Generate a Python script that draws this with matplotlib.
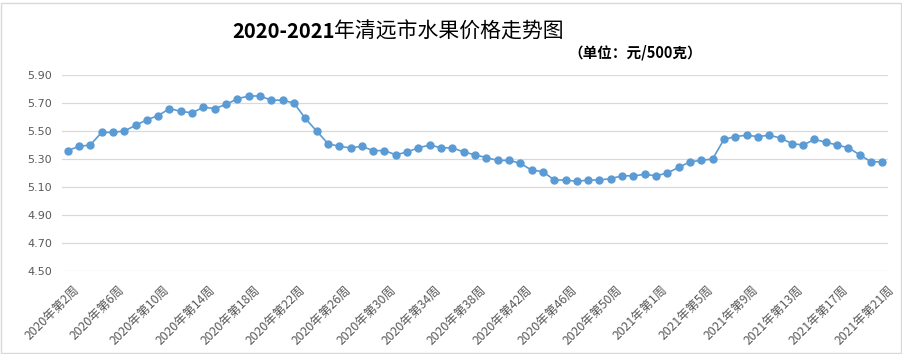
import matplotlib
matplotlib.use("Agg")
import matplotlib.pyplot as plt
from matplotlib.patches import Rectangle
from matplotlib.transforms import ScaledTranslation

plt.rcParams['font.family'] = ['Noto Sans CJK SC', 'DejaVu Sans']

weeks_2020 = list(range(2, 54))
weeks_2021 = list(range(1, 22))
categories = [f"2020年第{w}周" for w in weeks_2020] + [f"2021年第{w}周" for w in weeks_2021]

prices = [
    5.36, 5.39, 5.40, 5.49, 5.49, 5.50, 5.54, 5.58, 5.61, 5.66,
    5.64, 5.63, 5.67, 5.66, 5.69, 5.73, 5.75, 5.75, 5.72, 5.72,
    5.70, 5.59, 5.50, 5.41, 5.39, 5.38, 5.39, 5.36, 5.36, 5.33,
    5.35, 5.38, 5.40, 5.38, 5.38, 5.35, 5.33, 5.31, 5.29, 5.29,
    5.27, 5.22, 5.21, 5.15, 5.15, 5.14, 5.15, 5.15, 5.16, 5.18,
    5.18, 5.19, 5.18, 5.20, 5.24, 5.28, 5.29, 5.30, 5.44, 5.46,
    5.47, 5.46, 5.47, 5.45, 5.41, 5.40, 5.44, 5.42, 5.40, 5.38,
    5.33, 5.28, 5.28,
]

y_ticks = [4.50, 4.70, 4.90, 5.10, 5.30, 5.50, 5.70, 5.90]
title_num = "2020-2021"
title_cn = "年清远市水果价格走势图"
subtitle = "（单位：元/500克）"

W, H = 903, 354
fig = plt.figure(figsize=(W / 100, H / 100), dpi=100)
ax = fig.add_axes([62 / W, 1 - 271 / H, (888 - 62) / W, (271 - 75) / H])

x = list(range(len(prices)))
ax.plot(x, prices, color='#5B9BD5', linewidth=1.2, marker='o', markersize=5,
        markerfacecolor='#5B9BD5', markeredgecolor='#5B9BD5', zorder=3)

ax.set_xlim(-0.5, len(prices) - 0.5)
ax.set_ylim(4.50, 5.90)
ax.set_yticks(y_ticks)
ax.set_yticklabels([f"{v:.2f}" for v in y_ticks], color='#595959', fontsize=8,
                   family=['DejaVu Sans'])
ax.grid(axis='y', color='#D9D9D9', linewidth=0.9)
ax.set_axisbelow(True)
for s in ax.spines.values():
    s.set_visible(False)
ax.tick_params(axis='both', length=0)
ax.tick_params(axis='y', pad=7)

tick_idx = list(range(0, len(prices), 4))
ax.set_xticks(tick_idx)
ax.set_xticklabels([categories[i] for i in tick_idx], rotation=45, ha='right',
                   va='top', rotation_mode='anchor', fontsize=8.8, color='#595959')
ax.tick_params(axis='x', pad=9)
shift = ScaledTranslation(5 / 100, 0, fig.dpi_scale_trans)
for lbl in ax.get_xticklabels():
    lbl.set_transform(lbl.get_transform() + shift)

t1 = fig.text(232 / W, 1 - 32 / H, title_num, fontsize=14.5, fontweight='bold',
              ha='left', va='center', color='black')
ax.annotate(title_cn, xy=(1, 0), xycoords=t1, ha='left', va='bottom',
            fontsize=15, color='black')
fig.text(568 / W, 1 - 53 / H, subtitle, fontsize=10.5, fontweight='bold',
         ha='left', va='center', color='black')

fig.patches.append(Rectangle((1.5 / W, 1.5 / H), (W - 3) / W, (351 - 1.5) / H,
                             transform=fig.transFigure, fill=False,
                             edgecolor='#D9D9D9', linewidth=1))

fig.savefig("out.png", dpi=100)
